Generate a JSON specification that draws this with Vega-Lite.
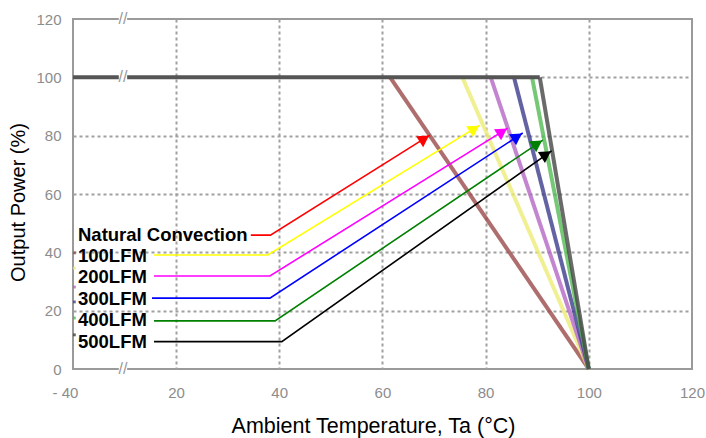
{
  "$schema": "https://vega.github.io/schema/vega-lite/v6.json",
  "width": 619,
  "height": 350,
  "autosize": {"type": "none"},
  "padding": {"left": 73, "top": 19, "right": 14, "bottom": 69},
  "background": "white",
  "config": {"view": {"stroke": "#9a9a9a", "strokeWidth": 2}, "font": "Liberation Sans"},
  "datasets": {
    "derating": [
      {"series": "Natural Convection", "temp": 61.5, "power": 100},
      {"series": "Natural Convection", "temp": 100, "power": 0},
      {"series": "100LFM", "temp": 75.5, "power": 100},
      {"series": "100LFM", "temp": 100, "power": 0},
      {"series": "200LFM", "temp": 81, "power": 100},
      {"series": "200LFM", "temp": 100, "power": 0},
      {"series": "300LFM", "temp": 85.5, "power": 100},
      {"series": "300LFM", "temp": 100, "power": 0},
      {"series": "400LFM", "temp": 89, "power": 100},
      {"series": "400LFM", "temp": 100, "power": 0},
      {"series": "500LFM", "temp": 90.5, "power": 100},
      {"series": "500LFM", "temp": 100, "power": 0}
    ],
    "flat": [
      {"temp": -40, "power": 100},
      {"temp": 90.5, "power": 100}
    ],
    "breaks": [
      {"temp": -10.9, "power": 120},
      {"temp": -10.9, "power": 100},
      {"temp": -10.9, "power": 0}
    ],
    "connectors": [
      {"series": "Natural Convection", "temp": 34.5, "power": 45.9},
      {"series": "Natural Convection", "temp": 38.3, "power": 45.9},
      {"series": "Natural Convection", "temp": 69.2, "power": 80.2},
      {"series": "100LFM", "temp": 7.2, "power": 39.1},
      {"series": "100LFM", "temp": 37.8, "power": 39.1},
      {"series": "100LFM", "temp": 78.9, "power": 83.6},
      {"series": "200LFM", "temp": 7.2, "power": 31.9},
      {"series": "200LFM", "temp": 38.2, "power": 31.9},
      {"series": "200LFM", "temp": 84.3, "power": 82.6},
      {"series": "300LFM", "temp": 6.0, "power": 24.3},
      {"series": "300LFM", "temp": 38.2, "power": 24.3},
      {"series": "300LFM", "temp": 87.2, "power": 80.9},
      {"series": "400LFM", "temp": 7.2, "power": 16.5},
      {"series": "400LFM", "temp": 39.2, "power": 16.5},
      {"series": "400LFM", "temp": 91.1, "power": 78.5},
      {"series": "500LFM", "temp": 7.2, "power": 9.4},
      {"series": "500LFM", "temp": 40.5, "power": 9.4},
      {"series": "500LFM", "temp": 92.8, "power": 74.8}
    ],
    "tips": [
      {"series": "Natural Convection", "temp": 69.2, "power": 80.2},
      {"series": "100LFM", "temp": 78.9, "power": 83.6},
      {"series": "200LFM", "temp": 84.3, "power": 82.6},
      {"series": "300LFM", "temp": 87.2, "power": 80.9},
      {"series": "400LFM", "temp": 91.1, "power": 78.5},
      {"series": "500LFM", "temp": 92.8, "power": 74.8}
    ],
    "labels": [
      {"series": "Natural Convection", "temp": -37.1, "power": 45.9},
      {"series": "100LFM", "temp": -37.1, "power": 38.7},
      {"series": "200LFM", "temp": -37.1, "power": 31.5},
      {"series": "300LFM", "temp": -37.1, "power": 24.0},
      {"series": "400LFM", "temp": -37.1, "power": 16.8},
      {"series": "500LFM", "temp": -37.1, "power": 9.3}
    ],
    "dots": [
      {"series": "Natural Convection", "temp": -39.2, "power": 39.8},
      {"series": "100LFM", "temp": -39.2, "power": 34.6},
      {"series": "200LFM", "temp": -39.2, "power": 28.1},
      {"series": "300LFM", "temp": -39.2, "power": 23.0},
      {"series": "400LFM", "temp": -39.2, "power": 17.5},
      {"series": "500LFM", "temp": -39.2, "power": 11.7}
    ]
  },
  "encoding": {
    "x": {
      "field": "temp",
      "type": "quantitative",
      "scale": {"domain": [-40, 20, 120], "range": [0, 103, 619], "nice": false, "zero": false},
      "axis": {
        "values": [-40, 20, 40, 60, 80, 100, 120],
        "grid": true,
        "gridDash": [3, 3],
        "gridColor": "#a0a0a0",
        "gridWidth": 2,
        "gridOpacity": {"condition": {"test": "datum.value == -40 || datum.value == 120", "value": 0}, "value": 1},
        "ticks": false,
        "domain": false,
        "labelColor": "#8c8c8c",
        "labelFontSize": 15,
        "labelPadding": 16,
        "labelFlush": false,
        "labelOverlap": false,
        "labelExpr": "datum.value == -40 ? '- 40' : datum.label",
        "labelOffset": {"condition": {"test": "datum.value == -40", "value": -8}, "value": 0},
        "title": "Ambient Temperature, Ta (°C)",
        "titleFontSize": 21.5,
        "titleFontWeight": "normal",
        "titleColor": "black",
        "titleX": 300,
        "titleY": 63,
        "titleBaseline": "alphabetic"
      }
    },
    "y": {
      "field": "power",
      "type": "quantitative",
      "scale": {"domain": [0, 120], "nice": false, "zero": true},
      "axis": {
        "values": [0, 20, 40, 60, 80, 100, 120],
        "grid": true,
        "gridDash": [3, 3],
        "gridColor": "#a0a0a0",
        "gridWidth": 2,
        "gridOpacity": {"condition": {"test": "datum.value == 0 || datum.value == 120", "value": 0}, "value": 1},
        "ticks": false,
        "domain": false,
        "labelColor": "#8c8c8c",
        "labelFontSize": 15,
        "labelPadding": 12,
        "labelFlush": false,
        "labelOverlap": false,
        "title": "Output Power (%)",
        "titleFontSize": 20,
        "titleFontWeight": "normal",
        "titleColor": "black",
        "titleX": -55,
        "titleY": 183,
        "titleAngle": 270,
        "titleBaseline": "middle"
      }
    }
  },
  "resolve": {"scale": {"color": "independent"}},
  "layer": [
    {
      "mark": {"type": "rect", "color": "white"},
      "encoding": {
        "x": {"datum": -38.5, "type": "quantitative"},
        "x2": {"datum": 34.4},
        "y": {"datum": 50, "type": "quantitative"},
        "y2": {"datum": 3.8}
      }
    },
    {
      "data": {"name": "dots"},
      "mark": {"type": "point", "shape": "square", "filled": true, "size": 8, "opacity": 0.8},
      "encoding": {
        "color": {
          "field": "series", "type": "nominal", "legend": null,
          "scale": {"domain": ["Natural Convection", "100LFM", "200LFM", "300LFM", "400LFM", "500LFM"],
                    "range": ["#9a4a4a", "#e8e870", "#b060c0", "#404090", "#50b850", "#404040"]}
        }
      }
    },
    {
      "data": {"name": "derating"},
      "mark": {"type": "line", "strokeWidth": 4, "opacity": 0.8},
      "encoding": {
        "color": {
          "field": "series", "type": "nominal", "legend": null,
          "scale": {"domain": ["Natural Convection", "100LFM", "200LFM", "300LFM", "400LFM", "500LFM"],
                    "range": ["#9a4a4a", "#ecec78", "#b466c4", "#3c3c8c", "#52ba52", "#454545"]}
        }
      }
    },
    {
      "data": {"name": "flat"},
      "mark": {"type": "line", "strokeWidth": 4, "color": "#555555"},
      "encoding": {}
    },
    {
      "data": {"name": "breaks"},
      "mark": {"type": "point", "shape": "square", "filled": true, "size": 70, "color": "white", "opacity": 1},
      "encoding": {}
    },
    {
      "data": {"name": "breaks"},
      "mark": {"type": "text", "text": "//", "fontSize": 16, "color": "#999999", "baseline": "middle", "align": "center"},
      "encoding": {}
    },
    {
      "data": {"name": "connectors"},
      "mark": {"type": "line", "strokeWidth": 1.6},
      "encoding": {
        "color": {
          "field": "series", "type": "nominal", "legend": null,
          "scale": {"domain": ["Natural Convection", "100LFM", "200LFM", "300LFM", "400LFM", "500LFM"],
                    "range": ["#ff0000", "#ffff00", "#ff00ff", "#0000ff", "#008000", "#000000"]}
        }
      }
    },
    {
      "data": {"name": "tips"},
      "mark": {"type": "point", "shape": "triangle-right", "filled": true, "size": 170, "opacity": 1, "angle": -33, "xOffset": -5.5, "yOffset": 3.6},
      "encoding": {
        "color": {
          "field": "series", "type": "nominal", "legend": null,
          "scale": {"domain": ["Natural Convection", "100LFM", "200LFM", "300LFM", "400LFM", "500LFM"],
                    "range": ["#ff0000", "#ffff00", "#ff00ff", "#0000ff", "#008000", "#000000"]}
        }
      }
    },
    {
      "data": {"name": "labels"},
      "mark": {"type": "text", "fontSize": 18.5, "fontWeight": "bold", "color": "black", "align": "left", "baseline": "middle"},
      "encoding": {
        "text": {"field": "series", "type": "nominal"}
      }
    }
  ]
}
